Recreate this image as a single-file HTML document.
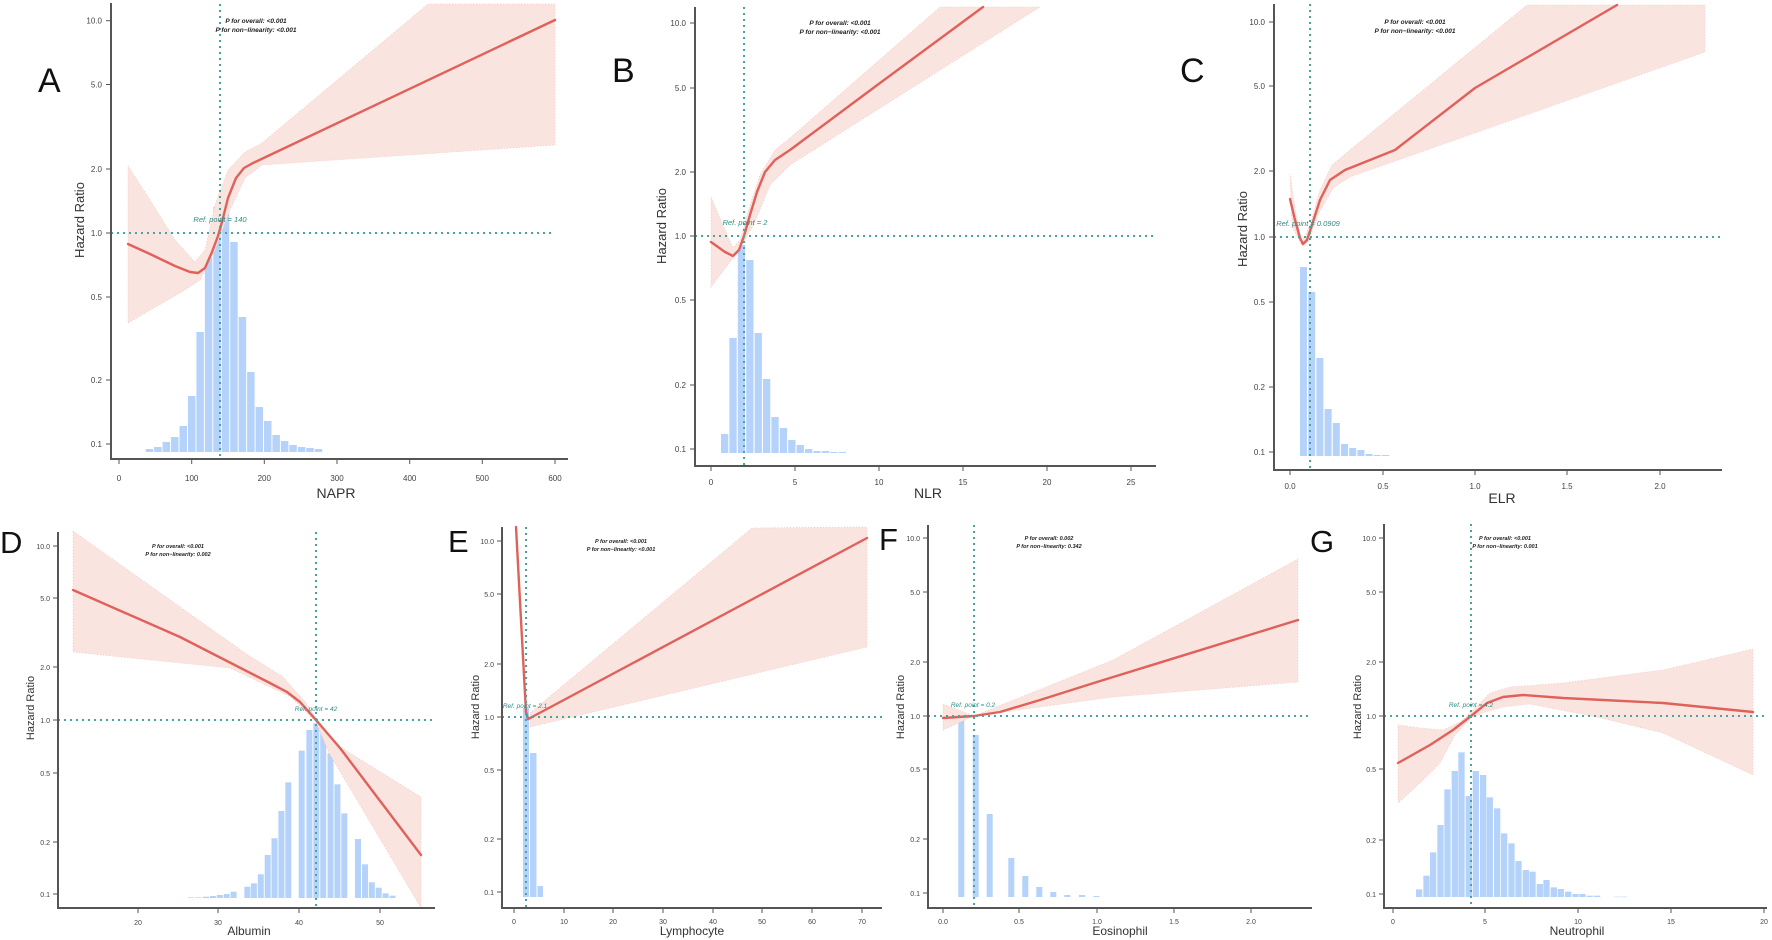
<!DOCTYPE html>
<html><head><meta charset="utf-8"><style>
html,body{margin:0;padding:0;background:#fff;}
svg{display:block;font-family:"Liberation Sans",sans-serif;}
.ax{stroke:#555;stroke-width:2;fill:none}
.tk{stroke:#555;stroke-width:1}
.yl{font-size:8px;fill:#444;text-anchor:end}
.xl{font-size:8px;fill:#444;text-anchor:middle}
.ref{stroke:#45a6a0;stroke-width:2;stroke-dasharray:2 4;fill:none}
.ci{fill:#f9e4e0;stroke:#f2bdb5;stroke-width:0.8;stroke-dasharray:1 2;stroke-opacity:0.8}
.ln{stroke:#e0615a;stroke-width:2.4;fill:none;stroke-linejoin:round;stroke-linecap:round}
.pt{font-size:6.5px;font-weight:bold;font-style:italic;fill:#222;text-anchor:middle}
.rt{font-size:7.5px;font-style:italic;fill:#2e8c88;text-anchor:middle}
.hr{font-size:13px;fill:#333;text-anchor:middle}
.lab{font-size:14px;fill:#333;text-anchor:middle}
.let{font-size:34px;fill:#111}
.bar{fill:#b5d3fa}
</style></head><body>
<svg id="s" width="1772" height="940" viewBox="0 0 1772 940" xmlns="http://www.w3.org/2000/svg">
<g id="bars"></g>

<!-- ===== A ===== -->
<polygon class="ci" points="128,166 150,200 175,240 195,262 205,250 215,205 228,170 245,152 262,143 428,4 555,4 555,145 262,165 245,178 230,210 215,250 200,280 185,290 128,323"/>
<polyline class="ln" points="128,244 150,254 175,266 190,272 198,273 205,268 212,252 218,236 222,222 228,198 236,178 244,168 253,163 270,155 555,20"/>
<line class="ref" x1="220" y1="4" x2="220" y2="458"/>
<line class="ref" x1="111" y1="233" x2="555" y2="233"/>
<line class="ax" x1="111" y1="3" x2="111" y2="459"/>
<line class="ax" x1="110" y1="459" x2="568" y2="459"/>
<g class="tk"><line x1="106" y1="20.7" x2="111" y2="20.7"/><line x1="106" y1="84.5" x2="111" y2="84.5"/><line x1="106" y1="169" x2="111" y2="169"/><line x1="106" y1="233" x2="111" y2="233"/><line x1="106" y1="297" x2="111" y2="297"/><line x1="106" y1="380" x2="111" y2="380"/><line x1="106" y1="444" x2="111" y2="444"/>
<line x1="119" y1="459" x2="119" y2="464"/><line x1="191.7" y1="459" x2="191.7" y2="464"/><line x1="264.3" y1="459" x2="264.3" y2="464"/><line x1="337" y1="459" x2="337" y2="464"/><line x1="409.7" y1="459" x2="409.7" y2="464"/><line x1="482.3" y1="459" x2="482.3" y2="464"/><line x1="555" y1="459" x2="555" y2="464"/></g>
<text class="yl" x="102" y="23.5">10.0</text><text class="yl" x="102" y="87.5">5.0</text><text class="yl" x="102" y="172">2.0</text><text class="yl" x="102" y="236">1.0</text><text class="yl" x="102" y="300">0.5</text><text class="yl" x="102" y="383">0.2</text><text class="yl" x="102" y="447">0.1</text>
<text class="xl" x="119" y="481">0</text><text class="xl" x="191.7" y="481">100</text><text class="xl" x="264.3" y="481">200</text><text class="xl" x="337" y="481">300</text><text class="xl" x="409.7" y="481">400</text><text class="xl" x="482.3" y="481">500</text><text class="xl" x="555" y="481">600</text>
<text class="lab" x="336" y="498">NAPR</text>
<text class="hr" transform="translate(84,220) rotate(-90)">Hazard Ratio</text>
<text class="pt" x="256" y="23">P for overall: &lt;0.001</text><text class="pt" x="256" y="32">P for non−linearity: &lt;0.001</text>
<text class="rt" x="220" y="222">Ref. point = 140</text>
<text class="let" x="38" y="92">A</text>

<!-- ===== B ===== -->
<polygon class="ci" points="711,197 733,248 740,240 750,205 760,175 775,150 790,138 940,7 1040,7 790,165 770,185 755,222 745,240 733,258 711,287"/>
<polyline class="ln" points="711,242 725,252 733,256 739,250 744,236 750,215 757,192 765,172 775,160 790,150 880,83 983,7"/>
<line class="ref" x1="744" y1="7" x2="744" y2="465"/>
<line class="ref" x1="695" y1="236" x2="1157" y2="236"/>
<line class="ax" x1="695" y1="7" x2="695" y2="466"/>
<line class="ax" x1="694" y1="466" x2="1156" y2="466"/>
<g class="tk"><line x1="690" y1="23" x2="695" y2="23"/><line x1="690" y1="88" x2="695" y2="88"/><line x1="690" y1="172" x2="695" y2="172"/><line x1="690" y1="236" x2="695" y2="236"/><line x1="690" y1="300" x2="695" y2="300"/><line x1="690" y1="385" x2="695" y2="385"/><line x1="690" y1="449" x2="695" y2="449"/>
<line x1="711" y1="466" x2="711" y2="471"/><line x1="795" y1="466" x2="795" y2="471"/><line x1="879" y1="466" x2="879" y2="471"/><line x1="963" y1="466" x2="963" y2="471"/><line x1="1047" y1="466" x2="1047" y2="471"/><line x1="1131" y1="466" x2="1131" y2="471"/></g>
<text class="yl" x="686" y="26">10.0</text><text class="yl" x="686" y="91">5.0</text><text class="yl" x="686" y="175">2.0</text><text class="yl" x="686" y="239">1.0</text><text class="yl" x="686" y="303">0.5</text><text class="yl" x="686" y="388">0.2</text><text class="yl" x="686" y="452">0.1</text>
<text class="xl" x="711" y="485">0</text><text class="xl" x="795" y="485">5</text><text class="xl" x="879" y="485">10</text><text class="xl" x="963" y="485">15</text><text class="xl" x="1047" y="485">20</text><text class="xl" x="1131" y="485">25</text>
<text class="lab" x="928" y="498">NLR</text>
<text class="hr" transform="translate(666,226) rotate(-90)">Hazard Ratio</text>
<text class="pt" x="840" y="25">P for overall: &lt;0.001</text><text class="pt" x="840" y="34">P for non−linearity: &lt;0.001</text>
<text class="rt" x="745" y="225">Ref. point = 2</text>
<text class="let" x="612" y="82">B</text>

<!-- ===== C ===== -->
<polygon class="ci" points="1290,174 1296,215 1302,242 1310,225 1320,190 1332,165 1350,150 1527,5 1705,5 1705,52 1350,177 1333,188 1318,215 1308,242 1302,246 1292,226"/>
<polyline class="ln" points="1290,199 1295,220 1300,238 1303,244 1307,240 1312,225 1320,200 1330,180 1345,170 1395,150 1475,88 1617,5"/>
<line class="ref" x1="1310" y1="4" x2="1310" y2="469"/>
<line class="ref" x1="1274" y1="237" x2="1722" y2="237"/>
<line class="ax" x1="1274" y1="4" x2="1274" y2="470"/>
<line class="ax" x1="1273" y1="470" x2="1722" y2="470"/>
<g class="tk"><line x1="1269" y1="22" x2="1274" y2="22"/><line x1="1269" y1="86" x2="1274" y2="86"/><line x1="1269" y1="171" x2="1274" y2="171"/><line x1="1269" y1="237" x2="1274" y2="237"/><line x1="1269" y1="302" x2="1274" y2="302"/><line x1="1269" y1="387" x2="1274" y2="387"/><line x1="1269" y1="452" x2="1274" y2="452"/>
<line x1="1290" y1="470" x2="1290" y2="475"/><line x1="1383" y1="470" x2="1383" y2="475"/><line x1="1475" y1="470" x2="1475" y2="475"/><line x1="1567" y1="470" x2="1567" y2="475"/><line x1="1660" y1="470" x2="1660" y2="475"/></g>
<text class="yl" x="1265" y="25">10.0</text><text class="yl" x="1265" y="89">5.0</text><text class="yl" x="1265" y="174">2.0</text><text class="yl" x="1265" y="240">1.0</text><text class="yl" x="1265" y="305">0.5</text><text class="yl" x="1265" y="390">0.2</text><text class="yl" x="1265" y="455">0.1</text>
<text class="xl" x="1290" y="489">0.0</text><text class="xl" x="1383" y="489">0.5</text><text class="xl" x="1475" y="489">1.0</text><text class="xl" x="1567" y="489">1.5</text><text class="xl" x="1660" y="489">2.0</text>
<text class="lab" x="1502" y="503">ELR</text>
<text class="hr" transform="translate(1247,229) rotate(-90)">Hazard Ratio</text>
<text class="pt" x="1415" y="24">P for overall: &lt;0.001</text><text class="pt" x="1415" y="33">P for non−linearity: &lt;0.001</text>
<text class="rt" x="1308" y="226">Ref. point = 0.0909</text>
<text class="let" x="1180" y="82">C</text>

<!-- ===== D ===== -->
<polygon class="ci" points="73,531 245,653 283,677 306,703 316,718 337,745 421,797 421,908 329,753 316,722 291,697 230,668 73,652"/>
<polyline class="ln" points="73,590 180,637 268,682 287,692 300,702 316,720 340,748 421,855"/>
<line class="ref" x1="316" y1="532" x2="316" y2="907"/>
<line class="ref" x1="58" y1="720" x2="435" y2="720"/>
<line class="ax" x1="58" y1="532" x2="58" y2="908"/>
<line class="ax" x1="57" y1="908" x2="435" y2="908"/>
<g class="tk"><line x1="53" y1="546" x2="58" y2="546"/><line x1="53" y1="598" x2="58" y2="598"/><line x1="53" y1="667" x2="58" y2="667"/><line x1="53" y1="720" x2="58" y2="720"/><line x1="53" y1="773" x2="58" y2="773"/><line x1="53" y1="842" x2="58" y2="842"/><line x1="53" y1="894" x2="58" y2="894"/>
<line x1="138" y1="908" x2="138" y2="913"/><line x1="218" y1="908" x2="218" y2="913"/><line x1="299" y1="908" x2="299" y2="913"/><line x1="380" y1="908" x2="380" y2="913"/></g>
<text class="yl" x="50" y="549" style="font-size:7px">10.0</text><text class="yl" x="50" y="601" style="font-size:7px">5.0</text><text class="yl" x="50" y="670" style="font-size:7px">2.0</text><text class="yl" x="50" y="723" style="font-size:7px">1.0</text><text class="yl" x="50" y="776" style="font-size:7px">0.5</text><text class="yl" x="50" y="845" style="font-size:7px">0.2</text><text class="yl" x="50" y="897" style="font-size:7px">0.1</text>
<text class="xl" x="138" y="925" style="font-size:7px">20</text><text class="xl" x="218" y="925" style="font-size:7px">30</text><text class="xl" x="299" y="925" style="font-size:7px">40</text><text class="xl" x="380" y="925" style="font-size:7px">50</text>
<text class="lab" x="249" y="935" style="font-size:12px">Albumin</text>
<text class="hr" transform="translate(34,708) rotate(-90)" style="font-size:11px">Hazard Ratio</text>
<text class="pt" x="178" y="548" style="font-size:5.5px">P for overall: &lt;0.001</text><text class="pt" x="178" y="556" style="font-size:5.5px">P for non−linearity: 0.002</text>
<text class="rt" x="316" y="711" style="font-size:6.5px">Ref. point = 42</text>
<text class="let" x="0" y="553" style="font-size:31px">D</text>

<!-- ===== E ===== -->
<polygon class="ci" points="530,713 752,528 867,527 867,647 530,727"/>
<polyline class="ln" points="516,527 521,620 526,712 528,719 532,717 867,538"/>
<line class="ref" x1="526" y1="527" x2="526" y2="907"/>
<line class="ref" x1="502" y1="717" x2="882" y2="717"/>
<line class="ax" x1="502" y1="527" x2="502" y2="908"/>
<line class="ax" x1="501" y1="908" x2="882" y2="908"/>
<g class="tk"><line x1="497" y1="541" x2="502" y2="541"/><line x1="497" y1="594" x2="502" y2="594"/><line x1="497" y1="664" x2="502" y2="664"/><line x1="497" y1="717" x2="502" y2="717"/><line x1="497" y1="770" x2="502" y2="770"/><line x1="497" y1="839" x2="502" y2="839"/><line x1="497" y1="892" x2="502" y2="892"/>
<line x1="514" y1="908" x2="514" y2="913"/><line x1="564" y1="908" x2="564" y2="913"/><line x1="613" y1="908" x2="613" y2="913"/><line x1="663" y1="908" x2="663" y2="913"/><line x1="713" y1="908" x2="713" y2="913"/><line x1="762" y1="908" x2="762" y2="913"/><line x1="812" y1="908" x2="812" y2="913"/><line x1="862" y1="908" x2="862" y2="913"/></g>
<text class="yl" x="494" y="544" style="font-size:7px">10.0</text><text class="yl" x="494" y="597" style="font-size:7px">5.0</text><text class="yl" x="494" y="667" style="font-size:7px">2.0</text><text class="yl" x="494" y="720" style="font-size:7px">1.0</text><text class="yl" x="494" y="773" style="font-size:7px">0.5</text><text class="yl" x="494" y="842" style="font-size:7px">0.2</text><text class="yl" x="494" y="895" style="font-size:7px">0.1</text>
<text class="xl" x="514" y="924" style="font-size:7px">0</text><text class="xl" x="564" y="924" style="font-size:7px">10</text><text class="xl" x="613" y="924" style="font-size:7px">20</text><text class="xl" x="663" y="924" style="font-size:7px">30</text><text class="xl" x="713" y="924" style="font-size:7px">40</text><text class="xl" x="762" y="924" style="font-size:7px">50</text><text class="xl" x="812" y="924" style="font-size:7px">60</text><text class="xl" x="862" y="924" style="font-size:7px">70</text>
<text class="lab" x="692" y="935" style="font-size:12px">Lymphocyte</text>
<text class="hr" transform="translate(479,707) rotate(-90)" style="font-size:11px">Hazard Ratio</text>
<text class="pt" x="621" y="543" style="font-size:5.5px">P for overall: &lt;0.001</text><text class="pt" x="621" y="551" style="font-size:5.5px">P for non−linearity: &lt;0.001</text>
<text class="rt" x="525" y="708" style="font-size:6.5px">Ref. point = 2.1</text>
<text class="let" x="448" y="552" style="font-size:31px">E</text>

<!-- ===== F ===== -->
<polygon class="ci" points="943,704 974,716 1113,660 1298,559 1298,682 1113,697 974,716 943,730"/>
<polyline class="ln" points="943,718 974,716 1000,712 1040,700 1097,682 1298,620"/>
<line class="ref" x1="974" y1="525" x2="974" y2="907"/>
<line class="ref" x1="928" y1="716" x2="1312" y2="716"/>
<line class="ax" x1="928" y1="525" x2="928" y2="908"/>
<line class="ax" x1="927" y1="908" x2="1312" y2="908"/>
<g class="tk"><line x1="923" y1="538" x2="928" y2="538"/><line x1="923" y1="592" x2="928" y2="592"/><line x1="923" y1="662" x2="928" y2="662"/><line x1="923" y1="716" x2="928" y2="716"/><line x1="923" y1="769" x2="928" y2="769"/><line x1="923" y1="839" x2="928" y2="839"/><line x1="923" y1="893" x2="928" y2="893"/>
<line x1="943" y1="908" x2="943" y2="913"/><line x1="1019" y1="908" x2="1019" y2="913"/><line x1="1097" y1="908" x2="1097" y2="913"/><line x1="1174" y1="908" x2="1174" y2="913"/><line x1="1251" y1="908" x2="1251" y2="913"/></g>
<text class="yl" x="920" y="541" style="font-size:7px">10.0</text><text class="yl" x="920" y="595" style="font-size:7px">5.0</text><text class="yl" x="920" y="665" style="font-size:7px">2.0</text><text class="yl" x="920" y="719" style="font-size:7px">1.0</text><text class="yl" x="920" y="772" style="font-size:7px">0.5</text><text class="yl" x="920" y="842" style="font-size:7px">0.2</text><text class="yl" x="920" y="896" style="font-size:7px">0.1</text>
<text class="xl" x="943" y="924" style="font-size:7px">0.0</text><text class="xl" x="1019" y="924" style="font-size:7px">0.5</text><text class="xl" x="1097" y="924" style="font-size:7px">1.0</text><text class="xl" x="1174" y="924" style="font-size:7px">1.5</text><text class="xl" x="1251" y="924" style="font-size:7px">2.0</text>
<text class="lab" x="1120" y="935" style="font-size:12px">Eosinophil</text>
<text class="hr" transform="translate(904,707) rotate(-90)" style="font-size:11px">Hazard Ratio</text>
<text class="pt" x="1049" y="540" style="font-size:5.5px">P for overall: 0.002</text><text class="pt" x="1049" y="548" style="font-size:5.5px">P for non−linearity: 0.342</text>
<text class="rt" x="973" y="707" style="font-size:6.5px">Ref. point = 0.2</text>
<text class="let" x="879" y="550" style="font-size:31px">F</text>

<!-- ===== G ===== -->
<polygon class="ci" points="1398,725 1420,728 1443,730 1460,722 1471,712 1490,693 1510,687 1563,683 1663,670 1753,649 1753,775 1663,733 1597,717 1530,704 1503,707 1485,712 1471,718 1455,735 1440,763 1420,783 1398,803"/>
<polyline class="ln" points="1398,763 1430,745 1453,730 1471,716 1487,703 1503,697 1523,695 1563,698 1663,703 1753,712"/>
<line class="ref" x1="1471" y1="524" x2="1471" y2="907"/>
<line class="ref" x1="1384" y1="716" x2="1767" y2="716"/>
<line class="ax" x1="1384" y1="524" x2="1384" y2="908"/>
<line class="ax" x1="1383" y1="908" x2="1767" y2="908"/>
<g class="tk"><line x1="1379" y1="538" x2="1384" y2="538"/><line x1="1379" y1="592" x2="1384" y2="592"/><line x1="1379" y1="662" x2="1384" y2="662"/><line x1="1379" y1="716" x2="1384" y2="716"/><line x1="1379" y1="769" x2="1384" y2="769"/><line x1="1379" y1="840" x2="1384" y2="840"/><line x1="1379" y1="894" x2="1384" y2="894"/>
<line x1="1393" y1="908" x2="1393" y2="913"/><line x1="1485" y1="908" x2="1485" y2="913"/><line x1="1578" y1="908" x2="1578" y2="913"/><line x1="1671" y1="908" x2="1671" y2="913"/><line x1="1764" y1="908" x2="1764" y2="913"/></g>
<text class="yl" x="1376" y="541" style="font-size:7px">10.0</text><text class="yl" x="1376" y="595" style="font-size:7px">5.0</text><text class="yl" x="1376" y="665" style="font-size:7px">2.0</text><text class="yl" x="1376" y="719" style="font-size:7px">1.0</text><text class="yl" x="1376" y="772" style="font-size:7px">0.5</text><text class="yl" x="1376" y="843" style="font-size:7px">0.2</text><text class="yl" x="1376" y="897" style="font-size:7px">0.1</text>
<text class="xl" x="1393" y="924" style="font-size:7px">0</text><text class="xl" x="1485" y="924" style="font-size:7px">5</text><text class="xl" x="1578" y="924" style="font-size:7px">10</text><text class="xl" x="1671" y="924" style="font-size:7px">15</text><text class="xl" x="1764" y="924" style="font-size:7px">20</text>
<text class="lab" x="1577" y="935" style="font-size:12px">Neutrophil</text>
<text class="hr" transform="translate(1361,707) rotate(-90)" style="font-size:11px">Hazard Ratio</text>
<text class="pt" x="1505" y="540" style="font-size:5.5px">P for overall: &lt;0.001</text><text class="pt" x="1505" y="548" style="font-size:5.5px">P for non−linearity: 0.001</text>
<text class="rt" x="1471" y="707" style="font-size:6.5px">Ref. point = 4.2</text>
<text class="let" x="1310" y="552" style="font-size:31px">G</text>
</svg>
<script>
(function(){
var g=document.getElementById('bars'),ns='http://www.w3.org/2000/svg';
function add(x,top,w,base){var r=document.createElementNS(ns,'rect');r.setAttribute('class','bar');r.setAttribute('x',x);r.setAttribute('y',top);r.setAttribute('width',w);r.setAttribute('height',Math.max(0.5,base-top));g.appendChild(r);}
function seq(x0,step,w,base,tops){tops.forEach(function(t,i){add(x0+i*step,t,w,base);});}
seq(145.7,8.45,7.5,452,[449,447,442,437,426,396,332,257,207,201,242,317,372,407,421,435,441,445,447,448,449]);
seq(721,8.4,7.3,453,[434,338,245,260,333,379,417,428,440,445,449,451,451,452,452]);
seq(1300,8.2,7,456,[267,292,358,409,423,444,448,450,454,455,455]);
var dx=[187.7,195.3,203,209.9,216.8,223.7,230.6,244.4,250.9,257.8,264.7,271.5,278.4,285.3,298.7,306.4,313.3,320.2,327.5,334.4,341.3,355,362,368.8,375.7,382.6,389.5];
var dt=[897.3,897.3,896.7,896,895,894,891.7,886.7,883.3,874.3,855,838.3,811,782.3,750.7,730,723.3,730,753.3,784.3,813.3,839,864.3,882.3,887.7,893.3,895.7];
dx.forEach(function(x,i){add(x,dt[i],6,898);});
add(523,708,6,897);add(530,753,6.5,897);add(537.5,886,5.5,897);
var fx=[958.3,972.7,986.7,1008.3,1022.3,1036.3,1050.3,1064.3,1079,1093.3],ft=[720,735,814,858,876,887,892,895,895,896];
fx.forEach(function(x,i){add(x,ft[i],6,897);});
var gz=[258,280,300,322,343,365,385,407,428,450,470,492,513,535,556,578,598,620,640,662,683,705,727,748,770,792,853,873];
var gt=[1168,1127,1057,975,868,813,757,888,813,825,892,925,1000,1030,1083,1110,1115,1152,1140,1162,1167,1175,1182,1182,1187,1187,1190,1190];
gz.forEach(function(z,i){add(1330+z/3,500+gt[i]/3,6.3,897);});
})();
</script>
</body></html>
